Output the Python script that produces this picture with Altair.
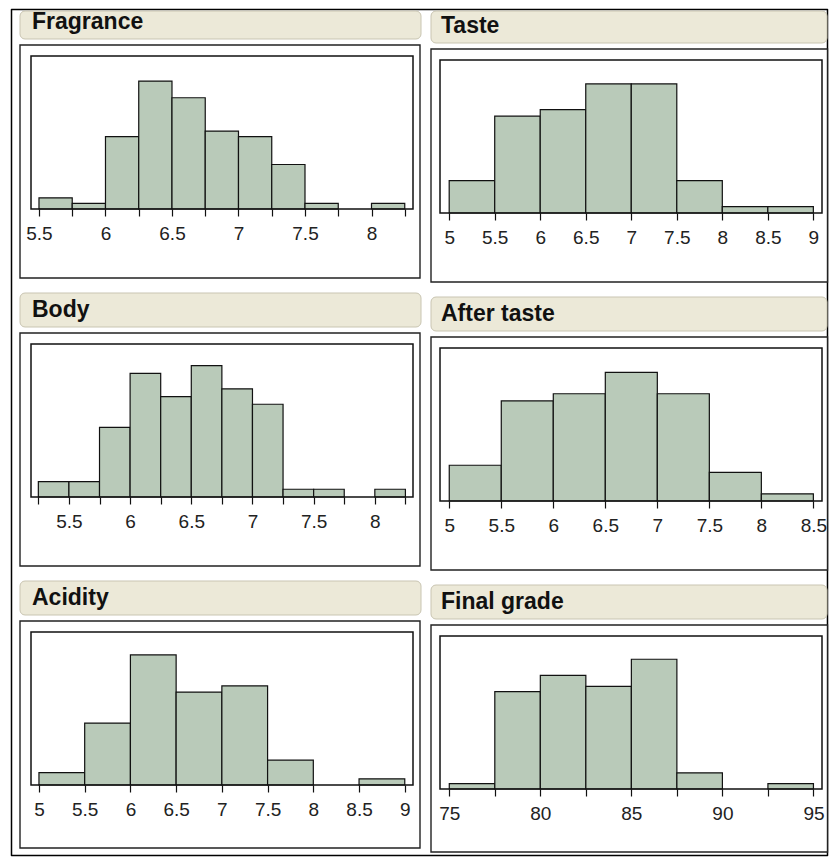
import altair as alt
import pandas as pd

# ---- data (bin edges and counts) ----
fragrance_edges = [5.5, 5.75, 6.0, 6.25, 6.5, 6.75, 7.0, 7.25, 7.5, 7.75, 8.0, 8.25]
fragrance_counts = [2, 1, 13, 23, 20, 14, 13, 8, 1, 0, 1]

taste_edges = [5.0, 5.5, 6.0, 6.5, 7.0, 7.5, 8.0, 8.5, 9.0]
taste_counts = [5, 15, 16, 20, 20, 5, 1, 1]

body_edges = [5.25, 5.5, 5.75, 6.0, 6.25, 6.5, 6.75, 7.0, 7.25, 7.5, 7.75, 8.0, 8.25]
body_counts = [2, 2, 9, 16, 13, 17, 14, 12, 1, 1, 0, 1]

after_edges = [5.0, 5.5, 6.0, 6.5, 7.0, 7.5, 8.0, 8.5]
after_counts = [5, 14, 15, 18, 15, 4, 1]

acidity_edges = [5.0, 5.5, 6.0, 6.5, 7.0, 7.5, 8.0, 8.5, 9.0]
acidity_counts = [2, 10, 21, 15, 16, 4, 0, 1]

final_edges = [75, 77.5, 80, 82.5, 85, 87.5, 90, 92.5, 95]
final_counts = [1, 18, 21, 19, 24, 3, 0, 1]

titles = ["Fragrance", "Taste", "Body", "After taste", "Acidity", "Final grade"]
label_steps = [0.5, 0.5, 0.5, 0.5, 0.5, 5]
x_domains = [[5.44, 8.312], [4.899, 9.095], [5.19, 8.312],
             [4.911, 8.583], [4.913, 9.09], [74.49, 95.47]]
y_tops = [27.5, 23.7, 19.8, 21.4, 24.7, 28.3]

all_edges = [fragrance_edges, taste_edges, body_edges, after_edges, acidity_edges, final_edges]
all_counts = [fragrance_counts, taste_counts, body_counts, after_counts, acidity_counts, final_counts]

W = 382
H = 153
STAGGER = 4
BAR_FILL = "#b9cab9"
HEADER_FILL = "#ece9d8"
FONT = "Liberation Sans"


def panel(idx):
    col = idx % 2
    row = idx // 2
    fy = 0 if col == 0 else STAGGER
    vh = H + fy
    edges = all_edges[idx]
    counts = all_counts[idx]
    df = pd.DataFrame({"start": edges[:-1], "end": edges[1:], "count": counts})
    one = pd.DataFrame({"k": [0]})

    ox0, ox1 = (-11, W + 7) if col == 0 else (-9, W + 5.5)
    hx0, hx1 = (-11, W + 8) if col == 0 else (-9, W + 5)
    hy0 = -45 if row == 0 else fy - 51
    ext = 69 if row < 2 else 63

    layers = []
    if idx == 0:
        layers.append(
            alt.Chart(one).mark_rect(fillOpacity=0, stroke="#000", strokeWidth=1.5,
                                     strokeJoin="round").encode(
                x=alt.value(-19.5), x2=alt.value(796.5),
                y=alt.value(-46.5), y2=alt.value(799.5))
        )
    layers.append(
        alt.Chart(one).mark_rect(fill="white", stroke="#222", strokeWidth=1.4).encode(
            x=alt.value(ox0), x2=alt.value(ox1),
            y=alt.value(fy - 11), y2=alt.value(fy + H + ext))
    )
    layers.append(
        alt.Chart(one).mark_rect(fill=HEADER_FILL, stroke="#c9c5b2", strokeWidth=1,
                                 cornerRadius=5).encode(
            x=alt.value(hx0), x2=alt.value(hx1),
            y=alt.value(hy0), y2=alt.value(fy - 17))
    )
    layers.append(
        alt.Chart(one).mark_text(align="left", baseline="alphabetic", font=FONT,
                                 fontSize=23, fontWeight="bold", color="#111").encode(
            x=alt.value(1), y=alt.value(fy - 27), text=alt.value(titles[idx]))
    )
    step = label_steps[idx]
    axis = alt.Axis(values=edges, format="~g",
                    labelExpr=f"datum.value % {step} == 0 ? datum.label : ''",
                    tickSize=7, tickColor="#111", tickWidth=1.2, domain=False,
                    grid=False, labelFont=FONT, labelFontSize=19, labelColor="#222",
                    labelPadding=8, labelFlush=False, labelOverlap=False, title=None,
                    zindex=1)
    layers.append(
        alt.Chart(df).transform_filter("datum.count > 0").mark_rect(
            fill=BAR_FILL, stroke="#111", strokeWidth=1.2).encode(
            x=alt.X("start:Q", scale=alt.Scale(domain=x_domains[idx], nice=False, zero=False),
                    axis=axis),
            x2="end:Q",
            y=alt.Y("count:Q", scale=alt.Scale(domain=[0, y_tops[idx]], range=[vh, fy],
                                               nice=False, zero=False), axis=None),
            y2=alt.datum(0),
        )
    )
    layers.append(
        alt.Chart(one).mark_rect(fillOpacity=0, stroke="#111", strokeWidth=1.5).encode(
            x=alt.value(0), x2=alt.value(W), y=alt.value(fy), y2=alt.value(vh))
    )
    return alt.layer(*layers).properties(width=W, height=vh)


chart = alt.concat(
    *[panel(i) for i in range(6)],
    columns=2,
    spacing={"row": 131, "column": 27},
    bounds="flush",
).properties(
    padding={"left": 2, "top": 0, "right": 0, "bottom": 0},
    background="white",
).configure_view(strokeWidth=0)

chart.save("out.html", embed_options={"renderer": "svg", "actions": False})
